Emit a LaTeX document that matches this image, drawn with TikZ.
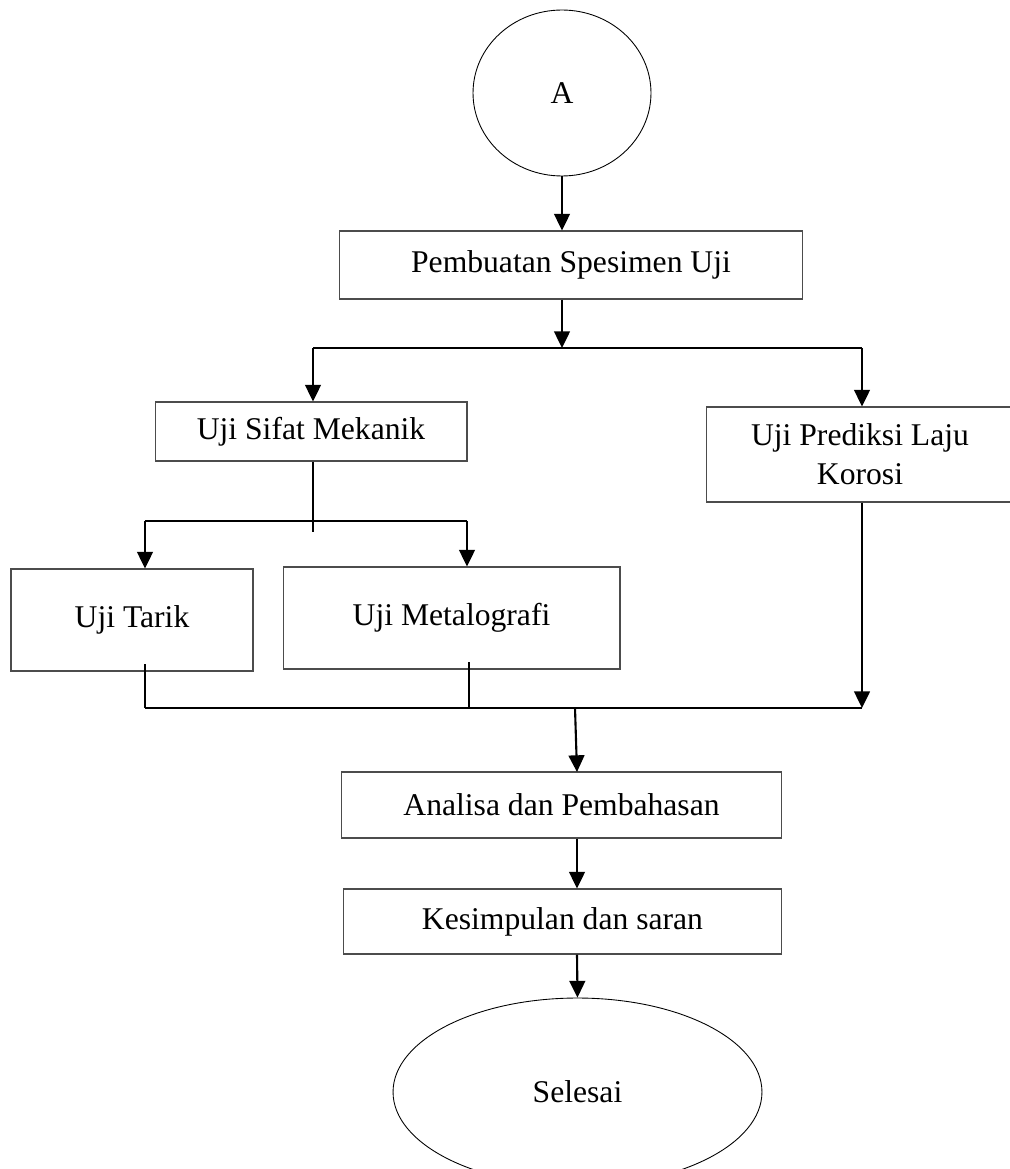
\documentclass[tikz,border=0pt]{standalone}
\usepackage{fontspec}
\setmainfont{Liberation Serif}
\usetikzlibrary{arrows.meta,
  shapes.geometric
}
\tikzset{>={Triangle[length=9.5pt,width=9pt]}}
\tikzset{
  box/.style={draw=black!70,line width=0.6pt,rectangle,inner sep=0pt,
    font=\fontsize{18}{22}\selectfont,align=center},
  oval/.style={draw,line width=0.5pt,ellipse,inner sep=0pt,
    font=\fontsize{18}{22}\selectfont},
  link/.style={line width=1.2pt},
  thinlink/.style={line width=0.9pt}
}

\begin{document}
\begin{tikzpicture}[x=0.02cm,y=-0.02cm]
  \useasboundingbox (0,0) rectangle (1010,1169);

  % Start and end
  \node[oval,minimum width=3.56cm,minimum height=3.32cm] (A) at (562,93) {A};
  \node[oval,minimum width=7.38cm,minimum height=3.76cm] (selesai) at (577.5,1092) {Selesai};

  % Process boxes
  \node[box,minimum width=9.28cm,minimum height=1.36cm] (spesimen) at (571,265) {Pembuatan Spesimen Uji};
  \node[box,minimum width=6.24cm,minimum height=1.18cm] (mekanik) at (311,431.5) {Uji Sifat Mekanik};
  \node[box,minimum width=6.16cm,minimum height=1.9cm] (korosi) at (860,454.5) {Uji Prediksi Laju\\Korosi};
  \node[box,minimum width=4.84cm,minimum height=2.04cm] (tarik) at (132,620) {Uji Tarik};
  \node[box,minimum width=6.74cm,minimum height=2.04cm] (metalo) at (451.5,618) {Uji Metalografi};
  \node[box,minimum width=8.82cm,minimum height=1.32cm] (analisa) at (561.5,805) {Analisa dan Pembahasan};
  \node[box,minimum width=8.78cm,minimum height=1.3cm] (kesimpulan) at (562.5,921.5) {Kesimpulan dan saran};

  % Junction points
  \coordinate (split1) at (562,348);
  \coordinate (jMek) at (313,348);
  \coordinate (jKor) at (862,348);
  \coordinate (split2) at (313,521);
  \coordinate (jTarik) at (145,521);
  \coordinate (jMetalo) at (467,521);
  \coordinate (jT2) at (145,708);
  \coordinate (jM2) at (469,708);
  \coordinate (jK2) at (862,708);
  \coordinate (merge) at (575,708);
  \coordinate (aIn) at (577,772);

  % First split
  \draw[link,->] (A) -- (A |- spesimen.north);
  \draw[link,->] (spesimen.south -| split1) -- (split1);
  \draw[link] (jMek) -- (jKor);
  \draw[link,->] (jMek) -- (jMek |- mekanik.north);
  \draw[link,->] (jKor) -- (jKor |- korosi.north);

  % Second split
  \draw[thinlink] (mekanik.south -| split2) -- ([yshift=-6]split2);
  \draw[link] (jTarik) -- (jMetalo);
  \draw[link,->] (jTarik) -- (jTarik |- tarik.north);
  \draw[link,->] (jMetalo) -- (jMetalo |- metalo.north);

  % Join
  \draw[thinlink] ([yshift=4]jT2 |- tarik.south) -- (jT2);
  \draw[thinlink] ([yshift=4]jM2 |- metalo.south) -- (jM2);
  \draw[link,->] (korosi.south -| jK2) -- (jK2);
  \draw[link] (jT2) -- (jK2);
  \draw[link,->] (merge) -- (aIn);

  % Final steps
  \draw[link,->] (analisa.south -| aIn) -- (kesimpulan.north -| aIn);
  \draw[link,->] (kesimpulan.south -| aIn) -- (selesai.north);
\end{tikzpicture}
\end{document}
